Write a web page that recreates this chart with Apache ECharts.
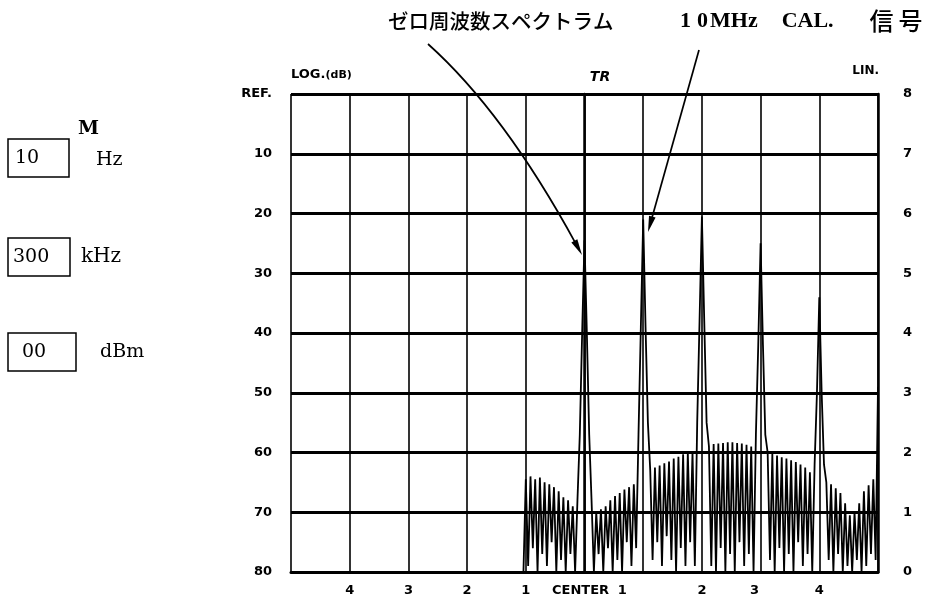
<!DOCTYPE html>
<html><head><meta charset="utf-8">
<script src="https://cdn.jsdelivr.net/npm/echarts@6/dist/echarts.min.js"></script>
<style>html,body{margin:0;padding:0;background:#fff}#c{width:939px;height:605px}</style>
</head><body><div id="c"></div>
<script>
// ---- data ----
const xTickValues = [-5, -4, -3, -2, -1, 0, 1, 2, 3, 4, 5];
const xTickLabels = ['', '4', '3', '2', '1', 'CENTER', '1', '2', '3', '4', ''];
const logTickLabels = ['REF.', '10', '20', '30', '40', '50', '60', '70', '80'];
const linTickLabels = ['0', '1', '2', '3', '4', '5', '6', '7', '8'];
// trace: frequency offset in divisions (1 div = 1 MHz), level in dB below REF
const traceFreqDiv = [
  -5.00, -1.04,
  -1.00, -0.96, -0.92, -0.88, -0.84, -0.80, -0.76, -0.72, -0.68, -0.64, -0.60, -0.56, -0.52,
  -0.48, -0.44, -0.40, -0.36, -0.32, -0.28, -0.24, -0.20, -0.16, -0.12, -0.08, -0.04,
   0.00,  0.04,  0.08,  0.12,  0.16,  0.20,  0.24,  0.28,  0.32,  0.36,  0.40,  0.44,  0.48,
   0.52,  0.56,  0.60,  0.64,  0.68,  0.72,  0.76,  0.80,  0.84,  0.88,  0.92,  0.96,
   1.00,  1.04,  1.08,  1.12,  1.16,  1.20,  1.24,  1.28,  1.32,  1.36,  1.40,  1.44,  1.48,
   1.52,  1.56,  1.60,  1.64,  1.68,  1.72,  1.76,  1.80,  1.84,  1.88,  1.92,  1.96,
   2.00,  2.04,  2.08,  2.12,  2.16,  2.20,  2.24,  2.28,  2.32,  2.36,  2.40,  2.44,  2.48,
   2.52,  2.56,  2.60,  2.64,  2.68,  2.72,  2.76,  2.80,  2.84,  2.88,  2.92,  2.96,
   3.00,  3.04,  3.08,  3.12,  3.16,  3.20,  3.24,  3.28,  3.32,  3.36,  3.40,  3.44,  3.48,
   3.52,  3.56,  3.60,  3.64,  3.68,  3.72,  3.76,  3.80,  3.84,  3.88,  3.92,  3.96,
   4.00,  4.04,  4.08,  4.12,  4.16,  4.20,  4.24,  4.28,  4.32,  4.36,  4.40,  4.44,  4.48,
   4.52,  4.56,  4.60,  4.64,  4.68,  4.72,  4.76,  4.80,  4.84,  4.88,  4.92,  4.96,
   5.00
];
const traceLevelDb = [
  80, 80,
  64.5, 79, 64, 76, 64.5, 80, 64.2, 77, 65, 79, 65.3, 75, 65.8,
  80, 66.5, 78, 67.5, 80, 68, 77, 69, 80, 68, 57, 40,
  24.5, 40, 57, 68, 80, 70, 77, 69.5, 80, 69, 76, 68, 80,
  67.3, 78, 66.8, 80, 66.2, 75, 65.8, 79, 65.3, 76, 57, 39,
  21, 39, 55, 63, 78, 62.5, 75, 62.2, 79, 61.8, 74, 61.5, 78,
  61, 80, 60.7, 76, 60.3, 79, 60, 75, 60, 79, 55, 38,
  20.5, 38, 55, 59, 79, 58.6, 80, 58.5, 76, 58.4, 80, 58.3, 77,
  58.3, 80, 58.4, 75, 58.5, 79, 58.7, 77, 59, 80, 57, 42,
  25, 42, 57, 60, 78, 60.2, 80, 60.5, 76, 60.8, 80, 61, 77,
  61.3, 80, 61.6, 75, 62, 79, 62.5, 77, 63.3, 80, 62, 50,
  34, 50, 62, 65, 78, 65.3, 80, 66, 77, 66.8, 80, 68.5, 79,
  70.5, 80, 70, 78, 68.5, 80, 66.5, 79, 65.5, 77, 64.5, 78,
  49
];

const chart = echarts.init(document.getElementById('c'), null, {renderer: 'canvas'});
const labelFont = {color: '#000', fontFamily: 'DejaVu Sans', fontWeight: 'bold', fontSize: 13};

function arrow(x0, y0, cx, cy, x1, y1) {
  const dx = x1 - cx, dy = y1 - cy, L = Math.hypot(dx, dy);
  const ux = dx / L, uy = dy / L, nx = -uy, ny = ux;
  const len = 16, hw = 3.4;
  const bx = x1 - ux * len, by = y1 - uy * len;
  return [
    {type: 'bezierCurve', shape: {x1: x0, y1: y0, cpx1: cx, cpy1: cy, x2: bx + ux * 3, y2: by + uy * 3},
     style: {stroke: '#000', lineWidth: 1.7, fill: null}},
    {type: 'polygon', shape: {points: [[x1, y1], [bx + nx * hw, by + ny * hw], [bx - nx * hw, by - ny * hw]]},
     style: {fill: '#000'}}
  ];
}

const serif = 'DejaVu Serif';
const ls = 'Liberation Serif';
const graphics = [
  // left setting boxes
  {type: 'rect', shape: {x: 8, y: 139, width: 61, height: 38}, style: {fill: null, stroke: '#000', lineWidth: 1.5}},
  {type: 'text', style: {text: '10', x: 15, y: 158, verticalAlign: 'middle', font: '19px ' + serif, fill: '#000'}},
  {type: 'text', style: {text: 'M', x: 78, y: 129, verticalAlign: 'middle', font: 'bold 19px ' + serif, fill: '#000'}},
  {type: 'text', style: {text: 'Hz', x: 96, y: 160, verticalAlign: 'middle', font: '19px ' + serif, fill: '#000'}},
  {type: 'rect', shape: {x: 8, y: 238, width: 62, height: 38}, style: {fill: null, stroke: '#000', lineWidth: 1.5}},
  {type: 'text', style: {text: '300', x: 13, y: 257, verticalAlign: 'middle', font: '19px ' + serif, fill: '#000'}},
  {type: 'text', style: {text: 'kHz', x: 81, y: 257, verticalAlign: 'middle', font: '20px ' + serif, fill: '#000'}},
  {type: 'rect', shape: {x: 8, y: 333, width: 68, height: 38}, style: {fill: null, stroke: '#000', lineWidth: 1.5}},
  {type: 'text', style: {text: '00', x: 22, y: 352, verticalAlign: 'middle', font: '19px ' + serif, fill: '#000'}},
  {type: 'text', style: {text: 'dBm', x: 100, y: 352, verticalAlign: 'middle', font: '19px ' + serif, fill: '#000'}},
  // axis captions
  {type: 'text', style: {text: '{a|LOG.}{b|(dB)}', x: 291, y: 75, verticalAlign: 'middle',
    rich: {a: {fontSize: 13, fontFamily: 'DejaVu Sans', fontWeight: 'bold', fill: '#000'},
           b: {fontSize: 11, fontFamily: 'DejaVu Sans', fontWeight: 'bold', fill: '#000'}}}},
  {type: 'text', style: {text: 'TR', x: 600, y: 77, align: 'center', verticalAlign: 'middle', font: 'italic bold 14px "DejaVu Sans"', fill: '#000'}},
  {type: 'text', style: {text: 'LIN.', x: 879, y: 71, align: 'right', verticalAlign: 'middle', font: 'bold 12px "DejaVu Sans"', fill: '#000'}},
  // annotations
  {type: 'text', style: {text: 'ゼロ周波数スペクトラム', x: 388, y: 21, verticalAlign: 'middle', font: '500 20.5px "Noto Sans CJK JP"', fill: '#000'}},
  {type: 'text', style: {x: 680, y: 21, verticalAlign: 'middle',
    text: '{d|1}{e|0}{m|MHz}{c|CAL.}{j|信}{k|号}',
    rich: {
      d: {fontSize: 22, fontFamily: ls, fontWeight: 'bold', fill: '#000', padding: [0, 6, 0, 0]},
      e: {fontSize: 22, fontFamily: ls, fontWeight: 'bold', fill: '#000', padding: [0, 2, 0, 0]},
      m: {fontSize: 22, fontFamily: ls, fontWeight: 'bold', fill: '#000', padding: [0, 24, 0, 0]},
      c: {fontSize: 22, fontFamily: ls, fontWeight: 'bold', fill: '#000', padding: [0, 36, 0, 0]},
      j: {fontSize: 24, fontFamily: 'Noto Sans CJK JP', fontWeight: 500, fill: '#000', padding: [0, 5, 0, 0]},
      k: {fontSize: 24, fontFamily: 'Noto Sans CJK JP', fontWeight: 500, fill: '#000'}
    }}}
].concat(arrow(428, 44, 504, 112, 582, 255)).concat(arrow(699, 50, 673.5, 141, 648, 232));

const option = {
  animation: false,
  backgroundColor: '#fff',
  grid: {left: 291, right: 61, top: 94, bottom: 33},
  xAxis: {
    type: 'value', min: -5, max: 5, interval: 1,
    axisLine: {show: true, onZero: false, lineStyle: {color: '#000', width: 3}},
    axisTick: {show: false},
    splitLine: {show: true, lineStyle: {color: '#000', width: 1.6}},
    axisLabel: Object.assign({}, labelFont, {
      margin: 12,
      formatter: function (v) {
        const i = xTickValues.indexOf(v);
        if (i === 6) return '{l|' + xTickLabels[i] + '}';
        if (i === 8) return '{m|' + xTickLabels[i] + '}';
        if (i === 5) return '{c|' + xTickLabels[i] + '}';
        return i >= 0 ? xTickLabels[i] : '';
      },
      rich: {
        l: Object.assign({}, labelFont, {padding: [0, 42, 0, 0]}),
        m: Object.assign({}, labelFont, {padding: [0, 12, 0, 0]}),
        c: Object.assign({}, labelFont, {padding: [0, 8, 0, 0]})
      }
    })
  },
  yAxis: [
    {
      type: 'value', min: 0, max: 80, interval: 10, inverse: true, position: 'left',
      axisLine: {show: true, lineStyle: {color: '#000', width: 2.5}},
      axisTick: {show: false},
      splitLine: {show: true, lineStyle: {color: '#000', width: 3}},
      axisLabel: Object.assign({}, labelFont, {margin: 19, formatter: v => logTickLabels[Math.round(v / 10)]})
    },
    {
      type: 'value', min: 0, max: 8, interval: 1, position: 'right',
      axisLine: {show: true, lineStyle: {color: '#000', width: 2.5}},
      axisTick: {show: false},
      splitLine: {show: false},
      axisLabel: Object.assign({}, labelFont, {margin: 25, formatter: v => linTickLabels[Math.round(v)]})
    }
  ],
  series: [{
    type: 'line', yAxisIndex: 0, showSymbol: false, symbol: 'none',
    lineStyle: {color: '#000', width: 1.8},
    data: traceFreqDiv.map((f, i) => [f, traceLevelDb[i]])
  }],
  graphic: graphics
};
chart.setOption(option);
</script>
</body></html>
